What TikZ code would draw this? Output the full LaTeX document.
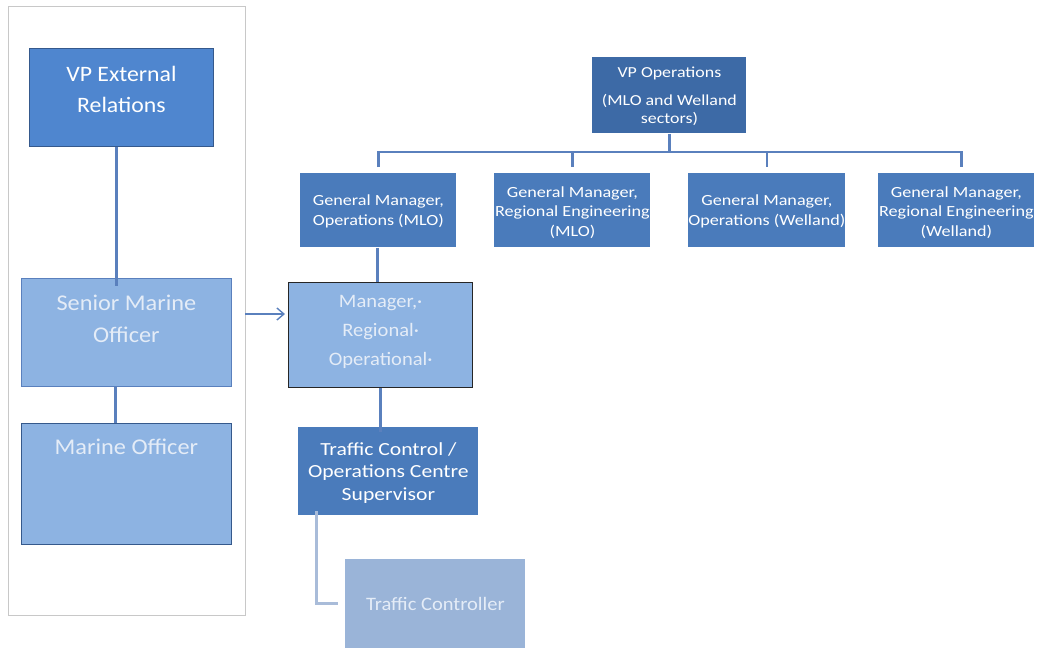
\documentclass[tikz,border=0pt]{standalone}
\usepackage{fontspec}
\setmainfont{Carlito}[FakeStretch=1.08]
\newfontfamily\widefont{Carlito}[FakeStretch=1.17]
\usetikzlibrary{arrows.meta}
\definecolor{cdark}{HTML}{3D6AA6}
\definecolor{cmid}{HTML}{4A7BBB}
\definecolor{cbright}{HTML}{4F86CF}
\definecolor{clight}{HTML}{8DB3E2}
\definecolor{cpale}{HTML}{9AB4D8}
\definecolor{cborder}{HTML}{35598C}
\definecolor{cline}{HTML}{5A80BD}
\definecolor{clinelt}{HTML}{A9BCD9}
\definecolor{ctextlt}{HTML}{E4ECF7}
\definecolor{cframe}{HTML}{C8C8C8}
\tikzset{
  box/.style={draw=cborder, line width=0.8pt, anchor=north west, inner xsep=0pt, inner ysep=0pt, align=center, text=white},
  conn/.style={draw=cline, line width=2.5pt},
  connlt/.style={draw=clinelt, line width=3pt},
}
\begin{document}
\begin{tikzpicture}[x=1pt,y=-1pt]
\useasboundingbox (0,0) rectangle (1038,648);
\node[draw=cframe, line width=0.8pt, anchor=north west, minimum width=237pt, minimum height=609pt, inner sep=0pt] (frame) at (8,6) {};
% left column
\node[box, fill=cbright, minimum width=184pt, text height=64pt, text depth=34pt,
  font=\fontsize{22}{31}\selectfont] (vpext) at (29,48) {VP External\\Relations};
\node[box, fill=clight, draw=cline, minimum width=210pt, text height=64pt, text depth=44pt,
  font=\fontsize{22.5}{32}\selectfont, text=ctextlt] (smo) at (21,278) {Senior Marine\\Officer};
\node[box, fill=clight, minimum width=210pt, text height=31pt, text depth=90pt,
  font=\fontsize{22.5}{32}\selectfont, text=ctextlt] (mo) at (21,423) {Marine Officer};
% middle column
\node[box, fill=clight, draw=black!85, line width=1.3pt, minimum width=184pt, text height=83pt, text depth=22pt,
  font=\fontsize{19}{29}\selectfont, text=ctextlt] (mgr) at (288,282) {Manager,·\\Regional·\\Operational·};
\node[box, fill=cmid, draw=none, minimum width=180pt, text height=73pt, text depth=15pt,
  font=\widefont\fontsize{18.5}{22.5}\selectfont] (tcs) at (298,427) {Traffic Control /\\Operations Centre\\Supervisor};
\node[box, fill=cpale, draw=none, minimum width=180pt, text height=51pt, text depth=38pt,
  font=\fontsize{19}{23}\selectfont, text=ctextlt] (tc) at (345,559) {Traffic Controller};
% top right
\node[box, fill=cdark, draw=none, minimum width=154pt, text height=66pt, text depth=10pt,
  font=\widefont\fontsize{15.3}{18}\selectfont] (vpops) at (592,57) {VP Operations\\[10pt](MLO and Welland\\sectors)};
\node[box, fill=cmid, draw=none, minimum width=156pt, text height=52.5pt, text depth=21.5pt,
  font=\widefont\fontsize{15.5}{20.5}\selectfont] (gm1) at (300,173) {General Manager,\\Operations (MLO)};
\node[box, fill=cmid, draw=none, minimum width=156pt, text height=63pt, text depth=11pt,
  font=\widefont\fontsize{15.5}{19.5}\selectfont] (gm2) at (494,173) {General Manager,\\Regional Engineering\\(MLO)};
\node[box, fill=cmid, draw=none, minimum width=156pt, text height=52.5pt, text depth=21.5pt,
  font=\widefont\fontsize{15.5}{20.5}\selectfont] (gm3) at (688,173) {General Manager,\\Operations (Welland)};
\node[box, fill=cmid, draw=none, minimum width=156pt, text height=63pt, text depth=11pt,
  font=\widefont\fontsize{15.5}{19.5}\selectfont] (gm4) at (878,173) {General Manager,\\Regional Engineering\\(Welland)};
% connectors
\coordinate (bus) at (0,152);
\coordinate (drop) at (0,167);
\draw[conn] (vpops.south) -- (vpops.south |- bus);
\draw[conn] (gm1.north |- drop) -- (gm1.north |- bus) -- ([xshift=5pt]gm4.north |- bus) -- ([xshift=5pt]gm4.north |- drop);
\draw[conn] (gm2.north |- bus) -- (gm2.north |- drop);
\draw[conn] (gm3.north |- bus) -- (gm3.north |- drop);
\draw[conn] ([xshift=-1pt]gm1.south) -- ([xshift=-1pt]gm1.south |- mgr.north);
\draw[conn] (mgr.south) -- ([yshift=-5pt]mgr.south |- tcs.north);
\draw[connlt] ([xshift=-72pt,yshift=5pt]tcs.south) |- ([xshift=-7pt]tc.west);
\draw[draw=cline, line width=2.2pt] ([xshift=-5pt]vpext.south) -- ([xshift=-5pt,yshift=-8pt]vpext.south |- smo.north);
\draw[draw=cline, line width=2.2pt] ([xshift=-11pt]smo.south) -- ([xshift=-11pt]smo.south |- mo.north);
\coordinate (arrowstart) at (245,314);
\draw[draw=cline, line width=1.4pt, -{Straight Barb[length=7pt,width=12pt]}] (arrowstart) -- ([xshift=-3pt]mgr.west |- arrowstart);
\end{tikzpicture}
\end{document}
